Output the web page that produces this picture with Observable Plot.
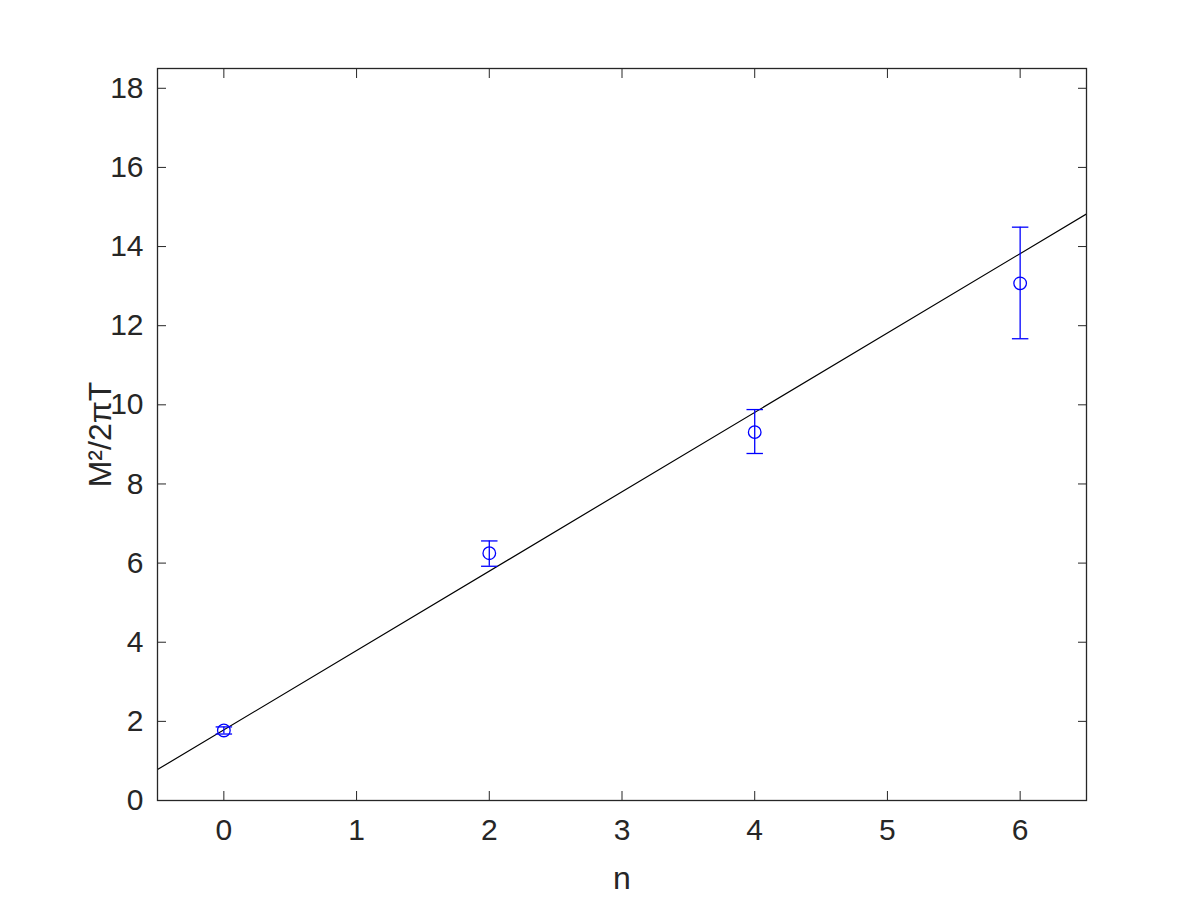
<!DOCTYPE html>
<html><head><meta charset="utf-8">
<script src="https://cdn.jsdelivr.net/npm/d3@7"></script>
<script src="https://cdn.jsdelivr.net/npm/@observablehq/plot@0.6"></script>
<style>
body{margin:0;background:#fff}
svg{font-family:"Liberation Sans",Arial,Helvetica,sans-serif}
</style>
</head><body><div id="chart"></div>
<script>
const nValues = [0, 2, 4, 6];
const mValues = [1.77, 6.25, 9.31, 13.07];
const errLow = [1.68, 5.92, 8.77, 11.67];
const errHigh = [1.86, 6.56, 9.88, 14.49];
const fitIntercept = 1.785;
const fitSlope = 2.006;
const xTicks = [0, 1, 2, 3, 4, 5, 6];
const yTicks = [0, 2, 4, 6, 8, 10, 12, 14, 16, 18];
const xDomain = [-0.5, 6.5];
const yDomain = [0, 18.5];
const xLabel = "n";
const yLabel = "M²/2πT";

const points = nValues.map((n, i) => ({n, m: mValues[i], lo: errLow[i], hi: errHigh[i]}));
const fit = xDomain.map(n => ({n, m: fitIntercept + fitSlope * n}));
const capHalf = 0.062;
const ink = "#262626";
const blue = "#0000ff";
const fmt = d3.format("d");

const plot = Plot.plot({
  width: 1200, height: 900,
  marginLeft: 157, marginRight: 114, marginTop: 68, marginBottom: 100,
  style: {fontSize: "30px", color: ink, background: "#fff", fontFamily: '"Liberation Sans", Arial, sans-serif'},
  x: {domain: xDomain},
  y: {domain: yDomain},
  marks: [
    Plot.line(fit, {x: "n", y: "m", stroke: "#000", strokeWidth: 1.2, clip: true}),
    Plot.ruleX(points, {x: "n", y1: "lo", y2: "hi", stroke: blue, strokeWidth: 1.3}),
    Plot.link(points, {x1: d => d.n - capHalf, x2: d => d.n + capHalf, y1: "lo", y2: "lo", stroke: blue, strokeWidth: 1.3}),
    Plot.link(points, {x1: d => d.n - capHalf, x2: d => d.n + capHalf, y1: "hi", y2: "hi", stroke: blue, strokeWidth: 1.3}),
    Plot.dot(points, {x: "n", y: "m", r: 6.3, stroke: blue, fill: "none", strokeWidth: 1.3}),
    Plot.axisX({ticks: xTicks, tickFormat: fmt, tickSize: 0, tickPadding: 18, label: null, fontSize: 30, fill: ink}),
    Plot.axisY({ticks: yTicks, tickFormat: fmt, tickSize: 0, tickPadding: 14, label: null, fontSize: 30, fill: ink}),
    Plot.axisX({ticks: xTicks, anchor: "bottom", tickSize: -9, tickFormat: () => "", label: null, stroke: ink}),
    Plot.axisX({ticks: xTicks, anchor: "top", tickSize: -9, tickFormat: () => "", label: null, stroke: ink}),
    Plot.axisY({ticks: yTicks, anchor: "left", tickSize: -9, tickFormat: () => "", label: null, stroke: ink}),
    Plot.axisY({ticks: yTicks, anchor: "right", tickSize: -9, tickFormat: () => "", label: null, stroke: ink}),
    Plot.frame({stroke: ink, strokeWidth: 1.3}),
    Plot.text([xLabel], {frameAnchor: "bottom", dy: 88, text: d => d, fontSize: 32, fill: ink}),
    Plot.text([yLabel], {frameAnchor: "left", dx: -57, rotate: -90, textAnchor: "middle", text: d => d, fontSize: 32, fill: ink})
  ]
});
document.getElementById("chart").appendChild(plot);
</script>
</body></html>
